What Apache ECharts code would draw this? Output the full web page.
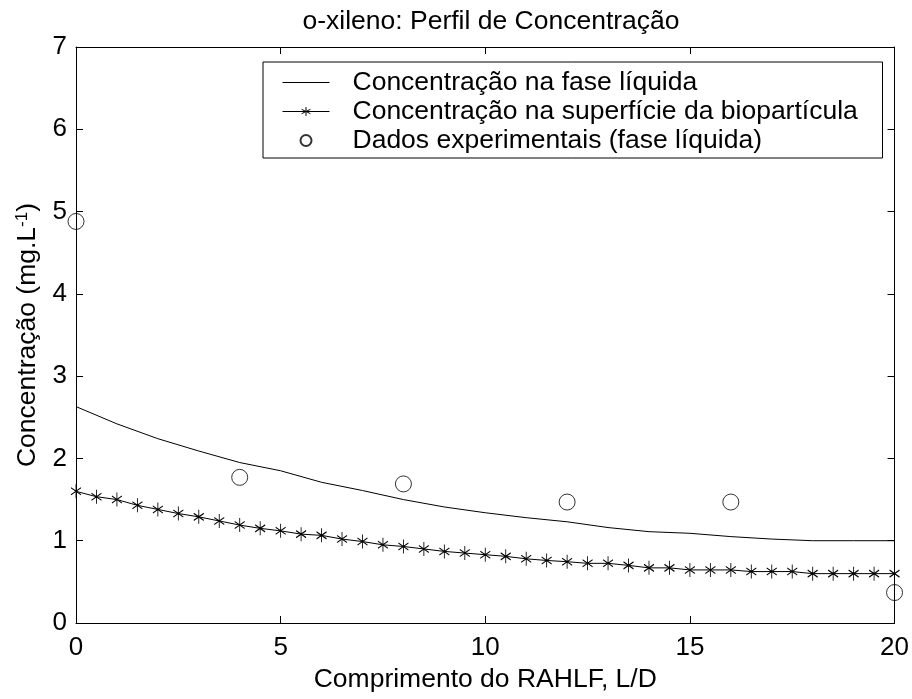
<!DOCTYPE html>
<html>
<head>
<meta charset="utf-8">
<script src="https://cdn.jsdelivr.net/npm/echarts@6/dist/echarts.min.js"></script>
<style>
  html, body { margin: 0; padding: 0; background: #fff; }
  #chart { width: 912px; height: 699px; }
</style>
</head>
<body>
<div id="chart"></div>
<script>
// Liquid-phase concentration profile along the reactor (L/D)
const liquidX = [0, 1, 2, 3, 4, 5, 6, 7, 8, 9, 10, 11, 12, 13, 14, 15, 16, 17, 18, 19, 20];
const liquidY = [2.63, 2.42, 2.24, 2.09, 1.95, 1.85, 1.71, 1.61, 1.50, 1.41, 1.34, 1.28, 1.23, 1.16, 1.11, 1.09, 1.05, 1.02, 1.00, 1.00, 1.00];

// Concentration at the bioparticle surface, every 0.5 L/D
const surfaceX = [0, 0.5, 1, 1.5, 2, 2.5, 3, 3.5, 4, 4.5, 5, 5.5, 6, 6.5, 7, 7.5, 8, 8.5, 9, 9.5, 10,
                  10.5, 11, 11.5, 12, 12.5, 13, 13.5, 14, 14.5, 15, 15.5, 16, 16.5, 17, 17.5, 18, 18.5, 19, 19.5, 20];
const surfaceY = [1.60, 1.535, 1.50, 1.43, 1.38, 1.33, 1.29, 1.24, 1.19, 1.15, 1.12, 1.08, 1.065, 1.02, 0.99, 0.95, 0.93, 0.90, 0.87, 0.85, 0.83,
                  0.81, 0.78, 0.76, 0.745, 0.725, 0.725, 0.70, 0.67, 0.67, 0.645, 0.645, 0.645, 0.625, 0.625, 0.625, 0.60, 0.60, 0.60, 0.60, 0.60];

// Experimental data (liquid phase)
const expX = [0, 4, 8, 12, 16, 20];
const expY = [4.88, 1.77, 1.69, 1.47, 1.47, 0.37];

const xTicks = [0, 5, 10, 15, 20];
const yTicks = [0, 1, 2, 3, 4, 5, 6, 7];

const seriesNames = [
  'Concentração na fase líquida',
  'Concentração na superfície da biopartícula',
  'Dados experimentais (fase líquida)'
];

const zip = (xs, ys) => xs.map((x, i) => [x, ys[i]]);

// asterisk marker: vertical stroke plus two diagonals
const asterisk = 'path://M0,-10L0,10M-8.66,-5L8.66,5M-8.66,5L8.66,-5';

const font = '"Liberation Sans", Arial, Helvetica, sans-serif';
const fs = 26.5;      // title, legend and axis names
const tickFs = 26;    // tick labels

const chart = echarts.init(document.getElementById('chart'), null, { renderer: 'canvas' });

const baseAxis = {
  axisLine: { show: true, onZero: false, lineStyle: { color: '#000', width: 1 } },
  axisTick: { show: true, inside: true, length: 7, lineStyle: { color: '#000' } },
  splitLine: { show: false },
};

chart.setOption({
  backgroundColor: '#fff',
  animation: false,
  title: {
    text: 'o-xileno: Perfil de Concentração',
    left: 486, top: 3, textAlign: 'center',
    textStyle: { fontFamily: font, fontSize: fs, fontWeight: 'normal', color: '#000' }
  },
  grid: { left: 76, right: 17, top: 47, bottom: 76 },
  legend: {
    left: 263, top: 62,
    orient: 'vertical',
    data: [
      { name: seriesNames[0], itemStyle: { color: 'rgba(0,0,0,0)', borderWidth: 0 }, lineStyle: { width: 1 } },
      { name: seriesNames[1], itemStyle: { borderWidth: 1 }, lineStyle: { width: 1 } },
      { name: seriesNames[2] }
    ],
    borderColor: '#000', borderWidth: 1, borderRadius: 0,
    padding: [6, 18, 3, 19],
    itemWidth: 47, itemHeight: 11, itemGap: 0,
    backgroundColor: '#fff',
    textStyle: { fontFamily: font, fontSize: fs, color: '#000', lineHeight: 29,
                 width: 512, overflow: 'none', padding: [0, 0, 0, 18] }
  },
  xAxis: [
    Object.assign({}, baseAxis, {
      type: 'value', min: 0, max: 20, interval: 5,
      name: 'Comprimento do RAHLF, L/D',
      nameLocation: 'middle', nameGap: 41,
      nameTextStyle: { fontFamily: font, fontSize: fs, color: '#000' },
      axisLabel: { fontFamily: font, fontSize: tickFs, color: '#000', margin: 12,
                   formatter: v => xTicks.includes(v) ? String(v) : '' }
    }),
    Object.assign({}, baseAxis, {
      type: 'value', min: 0, max: 20, interval: 5, position: 'top',
      axisLabel: { show: false }
    })
  ],
  yAxis: [
    Object.assign({}, baseAxis, {
      type: 'value', min: 0, max: 7, interval: 1,
      name: 'Concentração (mg.L{sup|-1})',
      nameLocation: 'middle', nameGap: 33,
      nameTextStyle: { fontFamily: font, fontSize: fs, color: '#000',
        rich: { sup: { fontFamily: font, fontSize: 17, color: '#000', verticalAlign: 'top', padding: [0, 0, 12, 0] } } },
      axisLabel: { fontFamily: font, fontSize: tickFs, color: '#000', margin: 9,
                   formatter: v => yTicks.includes(v) ? String(v) : '' }
    }),
    Object.assign({}, baseAxis, {
      type: 'value', min: 0, max: 7, interval: 1, position: 'right',
      axisLabel: { show: false }
    })
  ],
  series: [
    {
      name: seriesNames[0], type: 'line',
      data: zip(liquidX, liquidY),
      symbol: 'none', showSymbol: false,
      lineStyle: { color: '#000', width: 1 },
      itemStyle: { color: '#000' }
    },
    {
      name: seriesNames[1], type: 'line',
      data: zip(surfaceX, surfaceY),
      symbol: asterisk, symbolSize: [10, 14], showAllSymbol: true,
      lineStyle: { color: '#000', width: 1 },
      itemStyle: { color: '#000', borderColor: '#000', borderWidth: 1 }
    },
    {
      name: seriesNames[2], type: 'scatter',
      data: zip(expX, expY),
      symbol: 'circle', symbolSize: 16,
      itemStyle: { color: 'rgba(0,0,0,0)', borderColor: '#000', borderWidth: 1 }
    }
  ]
});
</script>
</body>
</html>
